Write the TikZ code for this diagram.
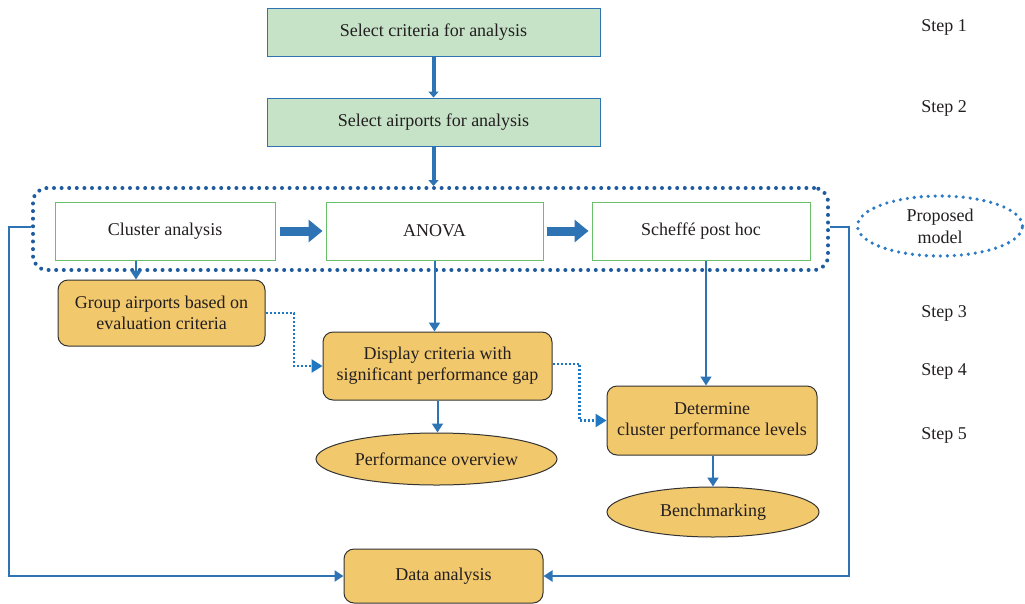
\documentclass[tikz,border=0pt]{standalone}
\usepackage{fontspec}
\setmainfont{Liberation Serif}
\usetikzlibrary{arrows.meta,shapes.geometric,calc}
\definecolor{lblue}{HTML}{2E74B5}
\definecolor{dblue}{HTML}{1F78C1}
\definecolor{fblue}{HTML}{1F5C9F}
\definecolor{eblue}{HTML}{2B7BC6}
\definecolor{gborder}{HTML}{6BBF6B}
\definecolor{gfill}{HTML}{C6E3C8}
\definecolor{ofill}{HTML}{F2C86C}
\definecolor{txt}{HTML}{231F20}
\tikzset{
  greenbox/.style={draw=lblue, line width=0.9pt, fill=gfill, minimum width=333pt, minimum height=48pt, text=txt},
  whitebox/.style={draw=gborder, line width=1pt, fill=white, minimum height=58pt, text=txt},
  orangebox/.style={draw=black!80, line width=1pt, fill=ofill, rounded corners=10pt, align=center, text=txt, inner sep=2pt},
  orangeell/.style={draw=black!80, line width=1pt, fill=ofill, ellipse, inner sep=0pt, text=txt},
  steplabel/.style={text=txt},
  dotframe/.style={draw=fblue, line width=4pt, dash pattern=on 0pt off 7.6pt, line cap=round},
  conn/.style={draw=lblue, line width=2pt, -{Triangle[width=11pt,length=9pt]}},
  thinconn/.style={draw=lblue, line width=1.4pt, -{Triangle[width=11pt,length=9pt]}},
  topconn/.style={draw=lblue, line width=4pt, -{Triangle[width=10pt,length=6pt]}},
  blockarrow/.style={draw=lblue, line width=9pt, -{Triangle[width=22pt,length=14pt]}},
  dotconn/.style={draw=dblue, line width=2.6pt, dash pattern=on 2.4pt off 1.6pt, -{Triangle[width=13pt,length=11pt]}},
  returnconn/.style={draw=lblue, line width=2.5pt, -{Triangle[width=11pt,length=9pt]}},
}
\begin{document}
\begin{tikzpicture}[x=1pt,y=-1pt, font=\fontsize{18}{21}\selectfont]
\useasboundingbox (0,0) rectangle (1025,603);

\node[greenbox] (b1) at (433.5,32) {Select criteria for analysis};
\node[greenbox] (b2) at (433.5,122) {Select airports for analysis};

\node[dotframe, rounded corners=14pt, minimum width=795pt, minimum height=82pt] (frame) at (430.5,229) {};

\node[whitebox, minimum width=220pt] (cl) at (165,231) {Cluster analysis};
\node[whitebox, minimum width=217pt] (an) at (434.5,231) {ANOVA};
\node[whitebox, minimum width=218pt] (sc) at (701,231) {Scheffé post hoc};

\node[draw=eblue, line width=3.6pt, dash pattern=on 0pt off 7pt, line cap=round, ellipse, minimum width=165pt, minimum height=60pt, inner sep=0pt, align=center, text=txt, font=\fontsize{18}{22}\selectfont] (pm) at (940,226) {Proposed\\model};

\node[steplabel] (s1) at (944,27) {Step 1};
\node[steplabel] (s2) at (944,108) {Step 2};
\node[steplabel] (s3) at (944,313) {Step 3};
\node[steplabel] (s4) at (944,371) {Step 4};
\node[steplabel] (s5) at (944,435) {Step 5};

\node[orangebox, minimum width=207pt, minimum height=66pt] (grp) at (161.5,313) {Group airports based on\\evaluation criteria};
\node[orangebox, minimum width=229pt, minimum height=68pt] (disp) at (437.5,366) {Display criteria with\\significant performance gap};
\node[orangeell, minimum width=241pt, minimum height=52pt] (perf) at (436.5,459) {Performance overview};
\node[orangebox, minimum width=210pt, minimum height=69pt] (det) at (712,420.5) {Determine\\cluster performance levels};
\node[orangeell, minimum width=212pt, minimum height=50pt] (bench) at (713,512) {Benchmarking};
\node[orangebox, minimum width=199pt, minimum height=54pt] (data) at (443.5,576) {Data analysis};

% top arrows
\draw[topconn] (b1.south) -- (b2.north);
\draw[topconn] (b2.south) -- (b2.south |- frame.north);

% block arrows
\draw[blockarrow, shorten <=4pt, shorten >=3pt] (cl.east) -- (an.west);
\draw[blockarrow, shorten <=3pt, shorten >=3pt] (an.east) -- (sc.west);

% down arrows
\draw[conn] ([xshift=-29pt]cl.south) -- ([xshift=-29pt]cl.south |- grp.north);
\draw[conn] (an.south) -- (an.south |- disp.north);
\draw[thinconn] ([xshift=5pt]sc.south) -- ([xshift=5pt]sc.south |- det.north);
\draw[conn] (disp.south) -- (disp.south |- perf.north);
\draw[conn] ([xshift=1pt]det.south) -- ([xshift=1pt]det.south |- bench.north);

% dotted connectors
\draw[dotconn] (grp.east) -| ($(grp.east)!0.5!(disp.west)$) |- (disp.west);
\draw[dotconn] ([yshift=2pt]disp.east) -| ($(disp.east)!0.5!(det.west)$) |- (det.west);

% return lines
\draw[returnconn] ([yshift=2pt]frame.west) -- ++(-22,0) |- (data.west);
\draw[returnconn] ([yshift=2pt]frame.east) -- ++(19,0) |- (data.east);
\end{tikzpicture}
\end{document}
